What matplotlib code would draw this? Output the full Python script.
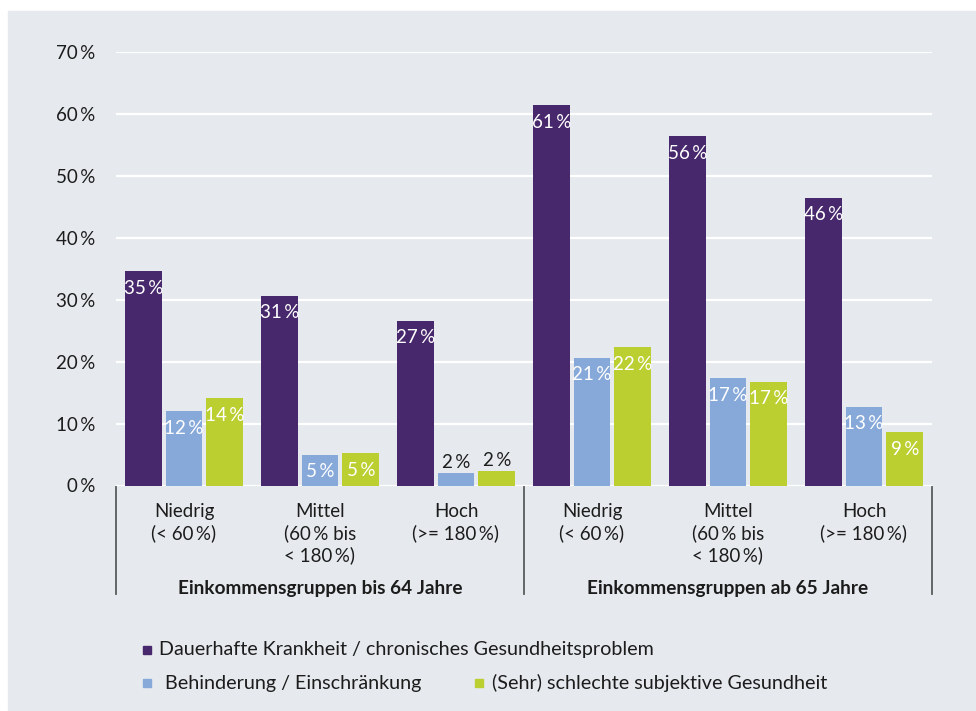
import matplotlib
matplotlib.use("Agg")
import matplotlib.pyplot as plt
from matplotlib.patches import Rectangle
import numpy as np

TS = "\u2009"  # thin space before %

# ---- data ----
categories = ["Niedrig\n(< 60\u2009%)", "Mittel\n(60\u2009% bis\n< 180\u2009%)", "Hoch\n(>= 180\u2009%)",
              "Niedrig\n(< 60\u2009%)", "Mittel\n(60\u2009% bis\n< 180\u2009%)", "Hoch\n(>= 180\u2009%)"]
group_titles = ["Einkommensgruppen bis 64 Jahre", "Einkommensgruppen ab 65 Jahre"]
series_names = ["Dauerhafte Krankheit / chronisches Gesundheitsproblem",
                "Behinderung / Einschränkung",
                "(Sehr) schlechte subjektive Gesundheit"]
chronic = [34.6, 30.6, 26.6, 61.4, 56.4, 46.4]
disability = [12.0, 4.9, 2.0, 20.6, 17.3, 12.7]
self_rated = [14.1, 5.2, 2.4, 22.3, 16.7, 8.6]
yticks = [0, 10, 20, 30, 40, 50, 60, 70]

colors = ["#48286c", "#87a9d9", "#bccf31"]
bg = "#e6eaee"
txt = "#1c1c1c"

plt.rcParams['font.family'] = ['Lato', 'DejaVu Sans']

W, H = 976, 711
fig = plt.figure(figsize=(W / 100, H / 100), dpi=100)
fig.patch.set_facecolor("white")

def px(x, y):
    return x / W, 1 - y / H

# background panel
fig.patches.append(Rectangle(px(8, 710), (W - 8) / W, (710 - 11) / H,
                             transform=fig.transFigure, color=bg, zorder=-10))

left, right = 116, 932
y0, y70 = 485.5, 52
ax = fig.add_axes([left / W, 1 - y0 / H, (right - left) / W, (y0 - y70) / H])
ax.set_zorder(1)
ax.set_facecolor("none")
ax.set_xlim(-0.5, 5.5)
ax.set_ylim(0, 70)
for s in ax.spines.values():
    s.set_visible(False)
ax.set_yticks(yticks)
ax.set_yticklabels([f"{t}{TS}%" for t in yticks], fontsize=13.5, color=txt)
ax.tick_params(axis='y', length=0, pad=15)
ax.set_xticks([])
for t in yticks:
    ax.axhline(t, color="white", lw=1.6, zorder=1)

x = np.arange(len(categories))
bw = 0.272
off = 0.3
for i, (vals, c) in enumerate(zip([chronic, disability, self_rated], colors)):
    xs = x + (i - 1) * off
    ax.bar(xs, vals, width=bw, color=c, zorder=2)
    for xi, v in zip(xs, vals):
        lab = f"{int(v + 0.5)}{TS}%"
        if v >= 4:
            ax.annotate(lab, (xi, v), xytext=(0, -6), textcoords="offset points",
                        ha="center", va="top", color="white", fontsize=13.5, zorder=3)
        else:
            ax.annotate(lab, (xi, v), xytext=(0, 1.5), textcoords="offset points",
                        ha="center", va="bottom", color=txt, fontsize=13.5, zorder=3)

# separators
for sx in [-0.5, 2.5, 5.5]:
    ax.plot([sx, sx], [-0.25, -17.5], color="#5a5a5a", lw=1.3, clip_on=False)

# category labels
px_per_unit = (y0 - y70) / 70.0
def ydata(ypix):
    return (y0 - ypix) / px_per_unit

for xi, cat in zip(x, categories):
    for j, line in enumerate(cat.split("\n")):
        ax.text(xi, ydata(517 + 22 * j), line, ha="center", va="baseline",
                fontsize=13.5, color=txt, clip_on=False)

for gi, title in enumerate(group_titles):
    ax.text(1 + 3 * gi, ydata(594), title, ha="center", va="baseline",
            fontsize=13.7, fontweight="bold", color=txt, clip_on=False)

# legend
legend_items = [(147, 650, 159, 0), (147, 683, 165, 1), (479, 683, 492, 2)]
sq = 8
for sxp, syp, tx, k in legend_items:
    fig.patches.append(Rectangle(px(sxp - sq / 2, syp + sq / 2), sq / W, sq / H,
                                 transform=fig.transFigure, color=colors[k], zorder=2))
    fig.text(tx / W, 1 - syp / H, series_names[k], ha="left", va="center",
             fontsize=14.2, color=txt)

fig.savefig("out.png", dpi=100)
